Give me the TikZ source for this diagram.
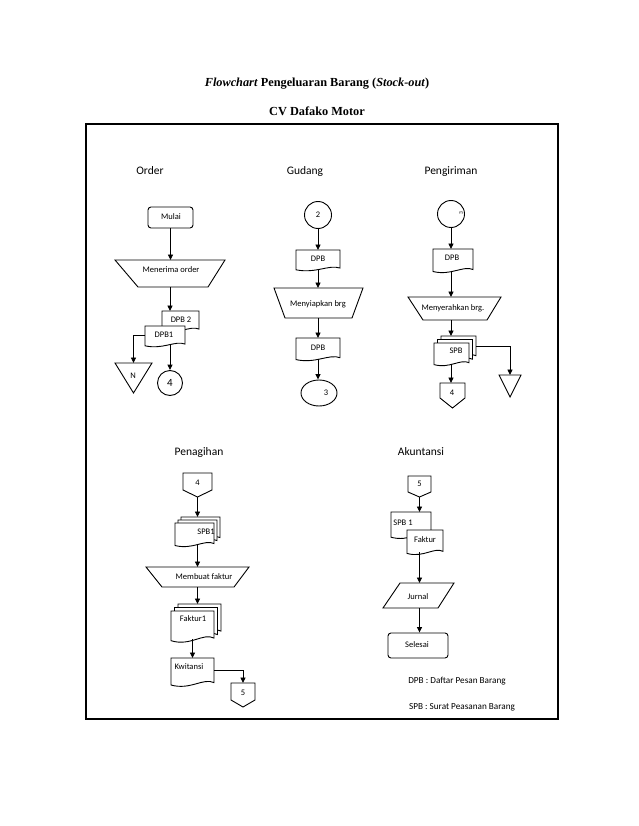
\documentclass[tikz,border=0pt]{standalone}
\usepackage{fontspec}
\setmainfont{Carlito}
\newfontfamily\titlefont{Liberation Serif}
\usetikzlibrary{arrows.meta,shapes.geometric}

\tikzset{
  shp/.style={draw=black, line width=0.9pt, fill=white, line join=miter},
  box/.style={inner sep=0pt, draw=none, outer sep=0pt},
  txt/.style={font=\fontsize{8.5}{10}\selectfont, inner sep=0pt},
  hdr/.style={font=\fontsize{11.5}{13}\selectfont, inner sep=0pt, anchor=base},
  ttl/.style={font=\titlefont\bfseries\fontsize{12.3}{14}\selectfont, inner sep=0pt},
  arr/.style={-{Triangle[length=5.5pt,width=5pt]}, line width=0.9pt},
  ln/.style={line width=0.9pt},
  circ/.style={circle, draw=black, line width=0.9pt, fill=white, inner sep=0pt},
  term/.style={rectangle, rounded corners=3pt, draw=black, line width=0.9pt, fill=white, inner sep=0pt}
}

% document shape: x y w h
\newcommand\mydocshape[4]{%
  \draw[shp] (#1,#2) -- (#1+#3,#2) -- (#1+#3,#2+0.82*#4)
    .. controls (#1+0.75*#3,#2+0.65*#4) and (#1+0.45*#3,#2+1.08*#4) .. (#1,#2+0.9*#4) -- cycle;}
% single document: name x y w h text tx ty
\newcommand\mydoc[8]{%
  \mydocshape{#2}{#3}{#4}{#5}
  \node[box, minimum width=#4, minimum height=0.86*#5] (#1) at (#2+#4/2,#3+0.43*#5) {};
  \node[txt] (#1t) at (#7,#8) {#6};}
% multi document: name x y w h d text tx ty
\newcommand\mymulti[9]{%
  \mydocshape{#2+2*#6}{#3-2*#6}{#4}{#5}
  \mydocshape{#2+#6}{#3-#6}{#4}{#5}
  \mydocshape{#2}{#3}{#4}{#5}
  \node[box, minimum width=#4, minimum height=0.86*#5] (#1) at (#2+#4/2,#3+0.43*#5) {};
  \node[box, minimum width=#4, minimum height=0.86*#5] (#1b) at (#2+2*#6+#4/2,#3-2*#6+0.43*#5) {};
  \node[txt] (#1t) at (#8,#9) {#7};}
% manual operation: name xtl xtr xbl xbr yt yb
\newcommand\mytrap[7]{%
  \draw[shp] (#2,#6) -- (#3,#6) -- (#5,#7) -- (#4,#7) -- cycle;
  \node[box, minimum width=#3-#2, minimum height=#7-#6] (#1) at (#2/2+#3/2,#6/2+#7/2) {};}
% off-page connector: name xl xr yt ys yp
\newcommand\myoff[6]{%
  \draw[shp] (#2,#4) -- (#3,#4) -- (#3,#5) -- (#2/2+#3/2,#6) -- (#2,#5) -- cycle;
  \node[box, minimum width=#3-#2, minimum height=#6-#4] (#1) at (#2/2+#3/2,#4/2+#6/2) {};}
% triangle: name xl xr yt yp
\newcommand\mytri[5]{%
  \draw[shp] (#2,#4) -- (#3,#4) -- (#2/2+#3/2,#5) -- cycle;
  \node[box, minimum width=#3-#2, minimum height=#5-#4] (#1) at (#2/2+#3/2,#4/2+#5/2) {};}

\begin{document}
\begin{tikzpicture}[x=1pt,y=-1pt]
\useasboundingbox (0,0) rectangle (638,826);

% title
\node[ttl] (title) at (317,84) {\textit{Flowchart} Pengeluaran Barang (\textit{Stock-out})};
\node[ttl] (sub) at (317,111) {CV Dafako Motor};
\draw[line width=1.2pt] (86,124) rectangle (558,719);

% headers
\node[hdr] (hOrder) at (150,175) {Order};
\node[hdr] (hGudang) at (305,175) {Gudang};
\node[hdr] (hKirim) at (451,175) {Pengiriman};
\node[hdr] (hTagih) at (199,455) {Penagihan};
\node[hdr] (hAkun) at (421,455) {Akuntansi};

% ---------------- ORDER
\node[term, minimum width=45, minimum height=21] (mulai) at (170.5,217.5) {};
\node[txt] (mulait) at (171,217) {Mulai};
\mytrap{t1}{115}{225}{138}{208}{260}{287}
\node[txt] (t1t) at (171,270) {Menerima order};
\mydoc{dpb2}{162}{311}{37}{22}{DPB 2}{181}{320}
\mydoc{dpb1}{145}{326}{40}{22}{DPB1}{164}{335}
\node[circ, minimum size=25] (c4) at (170,383) {\fontsize{11}{11}\selectfont 4};
\mytri{trN}{115}{152}{363}{393}
\node[txt] (trNt) at (133,376) {N};

\draw[arr] (mulai.south) -- (mulai.south |- t1.north);
\draw[arr] (t1.south) -- (t1.south |- dpb2.north);
\draw[arr] (dpb1.south -| c4.north) -- (c4.north);
\draw[arr] (dpb1.west) -| (trN.north);

% ---------------- GUDANG
\node[circ, minimum size=27] (c2) at (318,215) {};
\node[txt] (c2t) at (318,215) {2};
\mydoc{dpbg1}{296}{250}{44}{22}{DPB}{318}{259}
\mytrap{t2}{274}{363}{285}{352}{288}{318}
\node[txt] (t2t) at (318,304) {Menyiapkan brg};
\mydoc{dpbg2}{296}{338}{44}{24}{DPB}{318}{348}
\node[ellipse, draw=black, line width=0.9pt, fill=white, minimum width=36, minimum height=26, inner sep=0pt] (e3) at (319,393) {};
\node[txt] (e3t) at (326,393) {3};

\draw[arr] (c2.south) -- (c2.south |- dpbg1.north);
\draw[arr] (c2.south |- dpbg1.south) -- (c2.south |- t2.north);
\draw[arr] (c2.south |- t2.south) -- (c2.south |- dpbg2.north);
\draw[arr] (c2.south |- dpbg2.south) -- (c2.south |- e3.north);

% ---------------- PENGIRIMAN
\node[circ, minimum size=27] (c3) at (451,214) {};
\node[txt, rotate=90, font=\fontsize{5.5}{6}\selectfont] (c3t) at (461,213) {3};
\mydoc{dpbp}{433}{249}{40}{25}{DPB}{452}{258}
\mytrap{t3}{408}{501}{423}{487}{297}{320}
\node[txt] (t3t) at (453,308) {Menyerahkan brg.};
\mymulti{spb}{434}{343}{35}{24}{3.5}{SPB}{456}{351}
\myoff{op4p}{440}{465}{383}{398}{408}
\node[txt] (op4pt) at (452,393) {4};
\mytri{trP}{499}{521}{375}{397}

\draw[arr] (c3.south) -- (c3.south |- dpbp.north);
\draw[arr] (c3.south |- dpbp.south) -- (c3.south |- t3.north);
\draw[arr] (c3.south |- t3.south) -- (c3.south |- spbb.north);
\draw[arr] (c3.south |- spb.south) -- (c3.south |- op4p.north);
\draw[arr] (spbb.east) -| (trP.north);

% ---------------- PENAGIHAN
\myoff{op4}{183}{212}{473}{490}{497}
\node[txt] (op4t) at (197.5,483) {4};
\mymulti{spb1}{175}{523}{39}{25}{3}{SPB1}{206}{532}
\mytrap{t4}{146}{249}{162}{234}{567}{587}
\node[txt] (t4t) at (204,577) {Membuat faktur};
\mymulti{fak1}{171}{611}{43}{33}{3.5}{Faktur1}{193}{619}
\mydoc{kwit}{171}{658}{43}{30}{Kwitansi}{189}{667}
\myoff{op5}{231}{255}{683}{700}{707}
\node[txt] (op5t) at (243,693) {5};

\draw[arr] (op4.south) -- (op4.south |- spb1b.north);
\draw[arr] (op4.south |- spb1.south) -- (op4.south |- t4.north);
\draw[arr] (op4.south |- t4.south) -- (op4.south |- fak1b.north);
\draw[arr] (kwit.north |- fak1.south) -- (kwit.north);
\draw[arr] (kwit.east) -| (op5.north);

% ---------------- AKUNTANSI
\myoff{op5b}{408}{431}{476}{492}{497}
\node[txt] (op5bt) at (419.5,484) {5};
\mydoc{spb1a}{391}{512}{40}{28}{SPB 1}{403}{523}
\mydoc{fakt}{407}{530}{36}{26}{Faktur}{425}{540}
\draw[shp] (400,583) -- (454,583) -- (438,608) -- (383,608) -- cycle;
\node[box, minimum width=71, minimum height=25] (jurnal) at (418.5,595.5) {};
\node[txt] (jurnalt) at (418,597) {Jurnal};
\node[term, minimum width=60, minimum height=25] (selesai) at (418,645.5) {};
\node[txt] (selesait) at (417,645) {Selesai};

\draw[arr] (op5b.south) -- (op5b.south |- spb1a.north);
\draw[arr] (fakt.south -| op5b.south) -- (op5b.south |- jurnal.north);
\draw[arr] (op5b.south |- jurnal.south) -- (op5b.south |- selesai.north);

% legend
\node[txt, font=\fontsize{9.2}{10}\selectfont] (leg1) at (457,681) {DPB : Daftar Pesan Barang};
\node[txt, font=\fontsize{9.2}{10}\selectfont] (leg2) at (462,707) {SPB : Surat Peasanan Barang};
\end{tikzpicture}
\end{document}
